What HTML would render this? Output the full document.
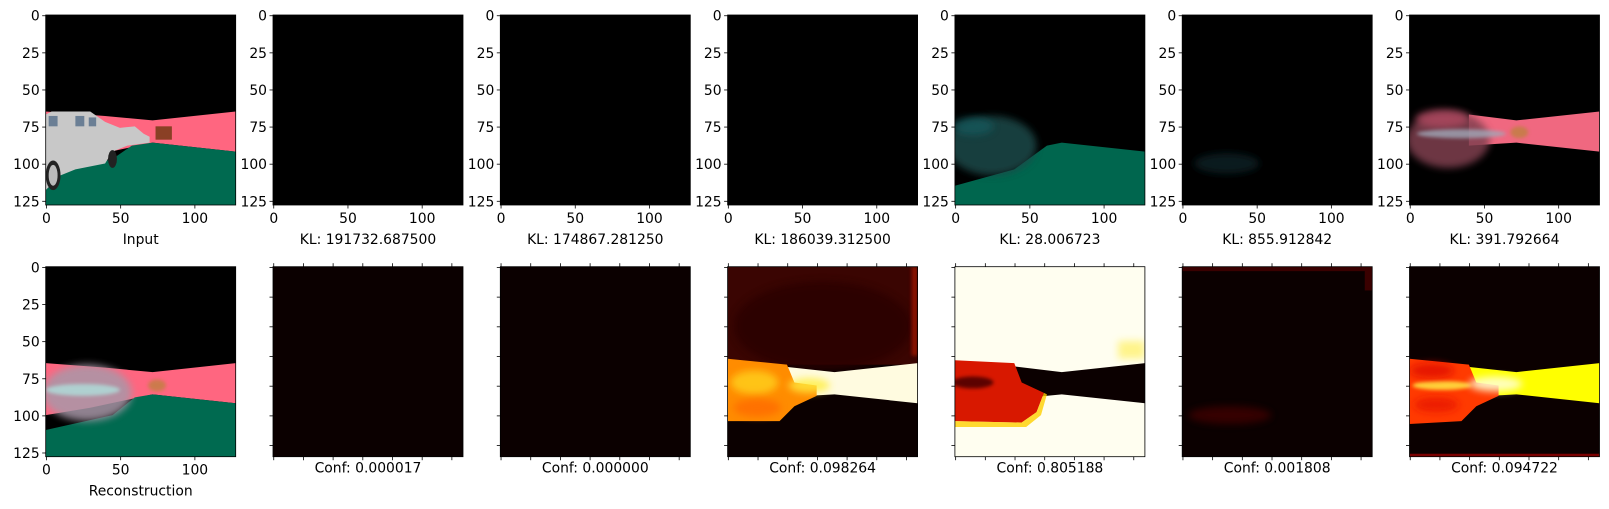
<!DOCTYPE html>
<html><head><meta charset="utf-8"><style>
html,body{margin:0;padding:0;background:#fff;width:1609px;height:509px;overflow:hidden}
svg text{font-family:"DejaVu Sans","Liberation Sans",sans-serif;font-size:13.9px;fill:#000}
</style></head><body>
<svg id="fig" width="1609" height="509" viewBox="0 0 1609 509" xmlns="http://www.w3.org/2000/svg">
<defs>
<filter id="bl" x="-100%" y="-100%" width="300%" height="300%"><feGaussianBlur stdDeviation="2.5"/></filter>
<filter id="bl2" x="-100%" y="-100%" width="300%" height="300%"><feGaussianBlur stdDeviation="1.2"/></filter>
<clipPath id="cp"><rect x="0" y="0" width="128" height="128"/></clipPath>
</defs>
</svg>
<script>
const topCaptions = ["Input","KL: 191732.687500","KL: 174867.281250","KL: 186039.312500","KL: 28.006723","KL: 855.912842","KL: 391.792664"];
const bottomCaptions = ["Reconstruction","Conf: 0.000017","Conf: 0.000000","Conf: 0.098264","Conf: 0.805188","Conf: 0.001808","Conf: 0.094722"];
const yTickLabels = [0,25,50,75,100,125];
const xTickLabels = [0,50,100];
const confTicks = [0,20,40,60,80,100,120];

const svg = document.getElementById('fig');
const NS = 'http://www.w3.org/2000/svg';
const L0 = 45.7, DX = 227.3, W = 190, ROWTOP = [15, 266.7];
const S = W / 128;
function el(t, a, p) { const e = document.createElementNS(NS, t); for (const k in a) e.setAttribute(k, a[k]); (p || svg).appendChild(e); return e; }
const px = v => (v + 0.5) * S;

const roadPoly = "0,65 40,68 72,71 128,65 128,92 72,86 30,95 0,100";
const grassPoly = "0,128 0,118 12,106 30,101 45,97 58,88 72,86 128,92 128,128";
const bandRight = "35,67 72,71 128,65 128,92 72,86 35,88";

function scene(g, kind) {
  const r = (x,y,w,h,f,o,flt) => { const a={x,y,width:w,height:h,fill:f}; if(o!==undefined)a.opacity=o; if(flt)a.filter=flt; return el('rect',a,g); };
  const pg = (pts,f,o,flt) => { const a={points:pts,fill:f}; if(o!==undefined)a.opacity=o; if(flt)a.filter=flt; return el('polygon',a,g); };
  const ell = (cx,cy,rx,ry,f,o,flt) => { const a={cx,cy,rx,ry,fill:f}; if(o!==undefined)a.opacity=o; if(flt)a.filter=flt; return el('ellipse',a,g); };
  switch (kind) {
    case 'input':
      r(0,0,128,128,'#000');
      pg(roadPoly,'#ff6680'); pg(grassPoly,'#006a50');
      r(74,75,11,9,'#8a4025');
      pg("0,67 4,65 30,65 40,72 50,76 60,75 66,80 70,82 70,86 55,88 45,92 40,100 20,104 10,108 0,118",'#c8c8c8');
      r(2,68,6,7,'#6b7f95'); r(20,68,6,7,'#6b7f95'); r(29,69,5,6,'#6b7f95');
      ell(5,108,5,10,'#222'); ell(5,108,3,7,'#bbb'); ell(45,97,3,6,'#222');
      break;
    case 'recon':
      r(0,0,128,128,'#000');
      pg(roadPoly,'#ff6680'); pg("0,128 0,110 45,100 60,88 72,86 128,92 128,128",'#006a50');
      ell(28,85,30,19,'#a898a8',0.85,'url(#bl)'); ell(25,83,25,4,'#aee0dc',0.8,'url(#bl2)');
      ell(75,80,6,4,'#c08040',0.8,'url(#bl2)');
      break;
    case 'black':
      r(0,0,128,128,'#000'); break;
    case 'teal':
      r(0,0,128,128,'#000');
      pg("0,128 0,115 40,104 62,88 72,86 128,92 128,128",'#00664e');
      ell(25,88,30,20,'#1a4a48',0.85,'url(#bl)'); ell(12,75,14,6,'#12585c',0.8,'url(#bl)');
      break;
    case 'faint':
      r(0,0,128,128,'#000'); ell(30,100,22,7,'#0a2426',0.8,'url(#bl)'); break;
    case 'pink':
      r(0,0,128,128,'#000');
      pg("40,67 72,71 128,65 128,92 72,86 40,88",'#f06880');
      ell(26,84,28,19,'#804050',0.85,'url(#bl)'); ell(22,70,18,6,'#b04a60',0.8,'url(#bl)');
      ell(35,80,30,3,'#a0a8b8',0.8,'url(#bl2)'); ell(74,79,6,4,'#c08040',0.8,'url(#bl2)');
      break;
    case 'dark':
      r(0,0,128,128,'#0b0000'); break;
    case 'darkfaint':
      r(0,0,128,128,'#0b0000'); r(0,0,128,3,'#3a0000'); r(123,0,5,16,'#3a0000');
      ell(32,100,28,6,'#3a0404',0.9,'url(#bl)'); break;
    case 'hot1':
      r(0,0,128,128,'#0b0000'); r(0,0,128,66,'#3a0502');
      ell(64,40,60,30,'#2a0000',0.8,'url(#bl)'); r(124,0,4,60,'#a01500',0.8,'url(#bl2)');
      pg(bandRight,'#fffbe0');
      pg("0,62 40,66 45,78 60,80 60,87 45,94 35,104 0,104",'#ff8c00');
      ell(18,78,16,8,'#ffd21a',0.8,'url(#bl)'); ell(20,95,16,6,'#ff6a00',0.8,'url(#bl)');
      ell(55,80,14,5,'#ffee40',0.8,'url(#bl)');
      break;
    case 'hot2':
      r(0,0,128,128,'#fffef0'); r(110,50,18,12,'#fff060',0.7,'url(#bl)');
      pg("30,66 72,71 128,65 128,92 72,86 30,90",'#0b0000');
      pg("0,63 40,65 45,78 60,85 55,98 45,105 0,104",'#d81800');
      ell(12,78,14,4,'#500000',0.9,'url(#bl2)');
      pg("0,104 45,105 55,98 60,85 62,86 58,100 48,108 0,108",'#ffd000',0.8);
      break;
    case 'hot3':
      r(0,0,128,128,'#0b0000');
      pg(bandRight,'#ffff00');
      pg("0,62 40,66 45,78 60,80 60,87 45,94 35,104 0,106",'#ff3a00');
      ell(22,80,20,3,'#ffe040',0.9,'url(#bl2)'); ell(58,79,18,5,'#ffffd0',0.9,'url(#bl)');
      ell(15,70,15,5,'#e01000',0.8,'url(#bl)'); ell(18,93,15,5,'#e81800',0.8,'url(#bl)');
      r(0,126,128,2,'#7a0000');
      break;
  }
}

const topKinds = ['input','black','black','black','teal','faint','pink'];
const botKinds = ['recon','dark','dark','hot1','hot2','darkfaint','hot3'];

function tickLine(x1,y1,x2,y2){ el('line',{x1,y1,x2,y2,stroke:'#000','stroke-width':0.8}); }
function txt(x,y,s,anchor,name){
  const t = el('text',{x,y,'text-anchor':anchor}); t.textContent = s;
  
  
  return t;
}

for (let row = 0; row < 2; row++) {
  for (let c = 0; c < 7; c++) {
    const L = L0 + c * DX, T = ROWTOP[row];
    const g = el('g',{transform:`translate(${L},${T}) scale(${S})`,'clip-path':'url(#cp)'});
    
    
    scene(g, row===0 ? topKinds[c] : botKinds[c]);
    const fr = el('rect',{x:L,y:T,width:W,height:W,fill:'none',stroke:'#000','stroke-width':0.8});
    
    
    const labeled = row === 0 || c === 0;
    if (labeled) {
      yTickLabels.forEach(v => { const y = T + px(v); tickLine(L-3.5,y,L,y); txt(L-6,y+5,String(v),'end','y-tick-label'); });
      xTickLabels.forEach(v => { const x = L + px(v); tickLine(x,T+W,x,T+W+3.5); txt(x,T+W+18,String(v),'middle','x-tick-label'); });
      txt(L+W/2, T+W+39, row===0 ? topCaptions[c] : bottomCaptions[c], 'middle', 'panel-caption');
    } else {
      confTicks.forEach(v => {
        const x = L + px(v), y = T + px(v);
        tickLine(x,T+W,x,T+W+3.5); tickLine(x,T-3.5,x,T); tickLine(L-3.5,y,L,y);
      });
      txt(L+W/2, T+W+16, bottomCaptions[c], 'middle', 'panel-caption');
    }
  }
}
</script>
</body></html>
